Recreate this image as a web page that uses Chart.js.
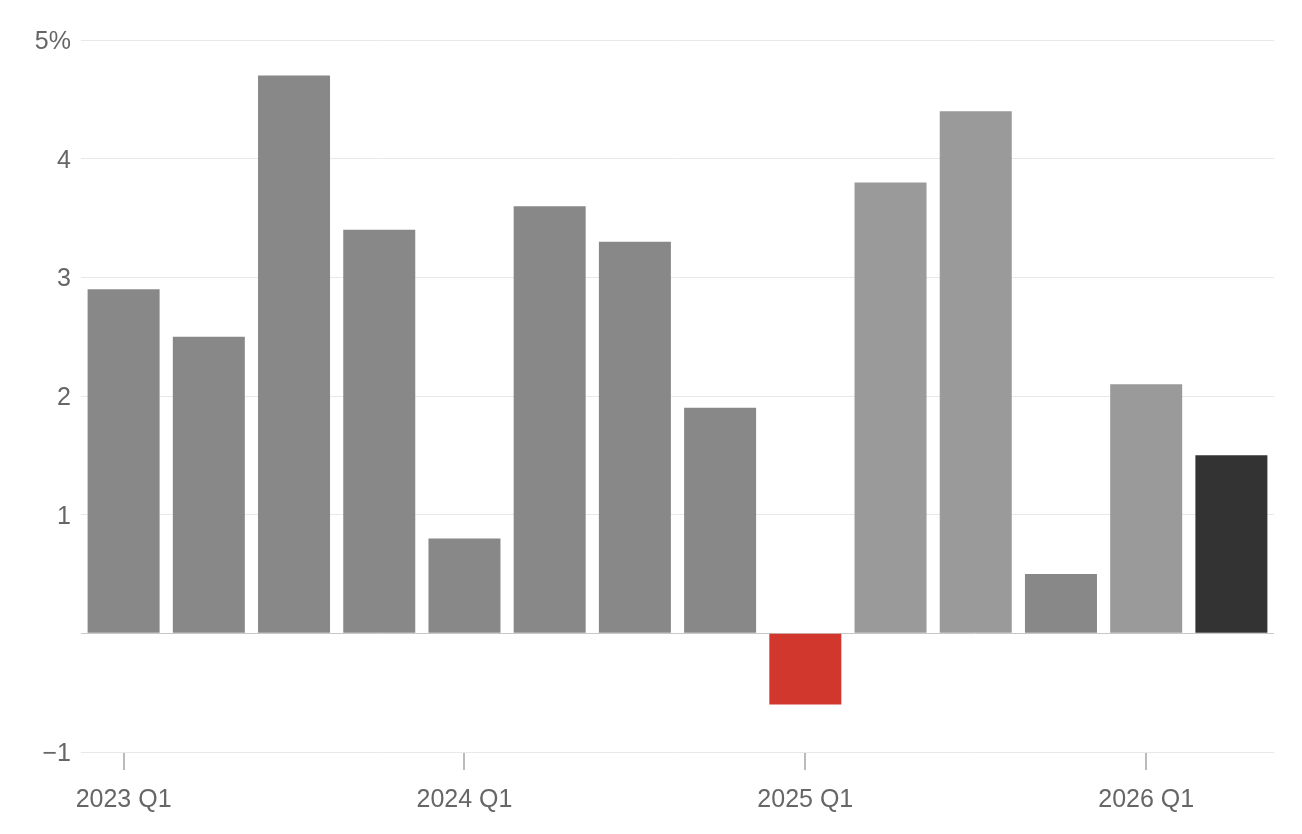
<!DOCTYPE html>
<html>
<head>
<meta charset="utf-8">
<script src="https://cdn.jsdelivr.net/npm/chart.js@4"></script>
<style>
    html, body { margin: 0; padding: 0; background: #fff; }
    #wrap { width: 1302px; height: 834px; }
</style>
</head>
<body>
<div id="wrap"><canvas id="growthChart"></canvas></div>
<script>
// Dữ liệu: các quý và tăng trưởng (%)
const quarters = [
    "2023 Q1", "2023 Q2", "2023 Q3", "2023 Q4",
    "2024 Q1", "2024 Q2", "2024 Q3", "2024 Q4",
    "2025 Q1", "2025 Q2", "2025 Q3", "2025 Q4",
    "2026 Q1", "2026 Q2"
];
const growth = [2.9, 2.5, 4.7, 3.4, 0.8, 3.6, 3.3, 1.9, -0.6, 3.8, 4.4, 0.5, 2.1, 1.5];
const yTicks = [-1, 0, 1, 2, 3, 4, 5];

// Màu từng cột
const barColors = [
    "#888888", "#888888", "#888888", "#888888",
    "#888888", "#888888", "#888888", "#888888",
    "#d1372d", "#9a9a9a", "#9a9a9a", "#888888",
    "#9a9a9a", "#333333"
];

document.addEventListener("DOMContentLoaded", function () {
    const ctx = document.getElementById("growthChart").getContext("2d");
    Chart.defaults.font.family = "'Liberation Sans', Arial, sans-serif";

    new Chart(ctx, {
        type: "bar",
        data: {
            labels: quarters,
            datasets: [{
                data: growth,
                backgroundColor: barColors,
                borderWidth: 0,
                barPercentage: 0.845,
                categoryPercentage: 1
            }]
        },
        options: {
            responsive: true,
            maintainAspectRatio: false,
            animation: false,
            layout: { padding: { top: 40, right: 28, left: 0, bottom: 0 } },
            plugins: { legend: { display: false }, tooltip: { enabled: false } },
            scales: {
                x: {
                    offset: true,
                    border: { display: false },
                    grid: {
                        offset: false,
                        drawOnChartArea: false,
                        drawTicks: true,
                        tickLength: 18,
                        lineWidth: 2,
                        color: c => (c.index % 4 === 0 ? "#bbbbbb" : "rgba(0,0,0,0)")
                    },
                    ticks: {
                        autoSkip: false,
                        maxRotation: 0,
                        padding: 15,
                        color: "#666666",
                        font: { size: 25 },
                        callback: function (v, i) {
                            return i % 4 === 0 ? quarters[i] : "";
                        }
                    },
                    afterFit: s => { s.height = 82; }
                },
                y: {
                    min: yTicks[0],
                    max: yTicks[yTicks.length - 1],
                    border: { display: false },
                    afterBuildTicks: s => { s.ticks = yTicks.map(v => ({ value: v })); },
                    grid: {
                        drawTicks: false,
                        lineWidth: 1,
                        color: c => (c.tick && c.tick.value === 0 ? "#c8c8c8" : "#e8e8e8")
                    },
                    ticks: {
                        padding: 10,
                        labelOffset: 2,
                        color: "#666666",
                        font: { size: 25 },
                        callback: function (v) {
                            if (v === 0) return "";
                            if (v === 5) return "5%";
                            return v < 0 ? "\u2212" + Math.abs(v) : String(v);
                        }
                    },
                    afterFit: s => { s.width = 81; }
                }
            }
        }
    });
});
</script>
</body>
</html>
